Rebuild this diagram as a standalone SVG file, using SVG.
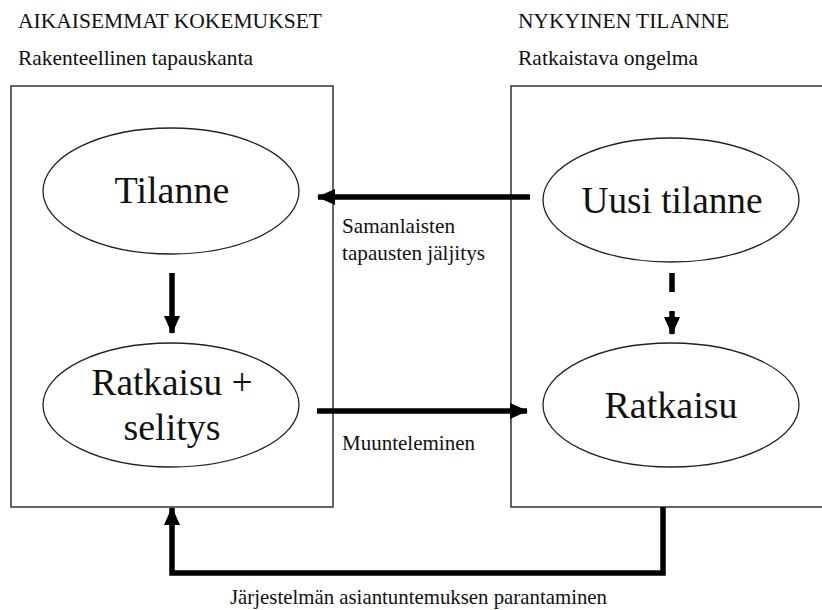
<svg xmlns="http://www.w3.org/2000/svg" width="822" height="610" viewBox="0 0 822 610">
<style>
text{font-family:'Liberation Serif','DejaVu Serif',serif;fill:#111}
.h{font-size:21px}
.n{font-size:37px;text-anchor:middle}
.box{fill:none;stroke:#333;stroke-width:1.5}
.ell{fill:#fff;stroke:#222;stroke-width:1.3}
.con{fill:none;stroke:#000;stroke-width:5.5}
</style>
<defs>
<marker id="ah" markerUnits="userSpaceOnUse" markerWidth="18" markerHeight="18" viewBox="0 0 18 18" refX="17" refY="9" orient="auto">
<path d="M0,1 L18,9 L0,17 z" fill="#000"/>
</marker>
</defs>
<rect width="822" height="610" fill="#fff"/>
<g id="titles" font-family="Liberation Serif, DejaVu Serif, serif">
<text class="h" x="18" y="28" textLength="304" lengthAdjust="spacingAndGlyphs">AIKAISEMMAT KOKEMUKSET</text>
<text class="h" x="18" y="65" textLength="235" lengthAdjust="spacingAndGlyphs">Rakenteellinen tapauskanta</text>
<text class="h" x="518" y="28" textLength="211" lengthAdjust="spacingAndGlyphs">NYKYINEN TILANNE</text>
<text class="h" x="518" y="65" textLength="180" lengthAdjust="spacingAndGlyphs">Ratkaistava ongelma</text>
</g>
<g id="box-left"><rect class="box" x="11" y="86" width="322" height="421"/></g>
<g id="box-right"><rect class="box" x="511" y="86" width="320" height="421"/></g>
<g id="connectors">
<line class="con" x1="530" y1="197" x2="318" y2="197" marker-end="url(#ah)"/>
<line class="con" x1="317" y1="411" x2="527" y2="411" marker-end="url(#ah)"/>
<line class="con" x1="172" y1="273" x2="172" y2="333" marker-end="url(#ah)"/>
<line class="con" x1="672" y1="273" x2="672" y2="292"/>
<line class="con" x1="672" y1="311" x2="672" y2="334" marker-end="url(#ah)"/>
<polyline class="con" points="663,507 663,573 172,573 172,508" marker-end="url(#ah)"/>
</g>
<g id="node-tilanne">
<ellipse class="ell" cx="171" cy="191" rx="128" ry="63"/>
<text class="n" x="172" y="203" textLength="115" lengthAdjust="spacingAndGlyphs">Tilanne</text>
</g>
<g id="node-ratkaisu-selitys">
<ellipse class="ell" cx="171" cy="405" rx="128" ry="62"/>
<text class="n" x="172" y="395" textLength="161" lengthAdjust="spacingAndGlyphs">Ratkaisu +</text>
<text class="n" x="172" y="440" textLength="97" lengthAdjust="spacingAndGlyphs">selitys</text>
</g>
<g id="node-uusi-tilanne">
<ellipse class="ell" cx="671" cy="200" rx="128" ry="62"/>
<text class="n" x="672" y="213" textLength="181" lengthAdjust="spacingAndGlyphs">Uusi tilanne</text>
</g>
<g id="node-ratkaisu">
<ellipse class="ell" cx="671" cy="405" rx="128" ry="62"/>
<text class="n" x="671" y="418" textLength="133" lengthAdjust="spacingAndGlyphs">Ratkaisu</text>
</g>
<g id="labels">
<text class="h" x="342" y="233" textLength="113" lengthAdjust="spacingAndGlyphs">Samanlaisten</text>
<text class="h" x="342" y="260" textLength="143" lengthAdjust="spacingAndGlyphs">tapausten jäljitys</text>
<text class="h" x="342" y="450" textLength="133" lengthAdjust="spacingAndGlyphs">Muunteleminen</text>
<text class="h" x="230" y="604" textLength="377" lengthAdjust="spacingAndGlyphs">Järjestelmän asiantuntemuksen parantaminen</text>
</g>
</svg>
